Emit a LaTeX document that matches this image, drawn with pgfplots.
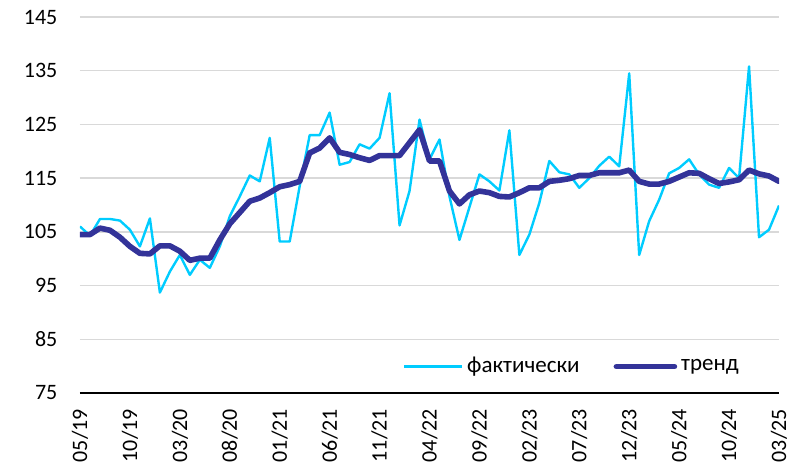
\documentclass[border=0pt]{standalone}
\usepackage{fontspec}
\setmainfont{Carlito}
\usepackage{pgfplots}
\pgfplotsset{compat=1.18}
\definecolor{fakt}{RGB}{0,204,255}
\definecolor{trend}{RGB}{51,51,153}
\definecolor{gridc}{RGB}{217,217,217}

\pgfplotstableread{
m fakt trend
0 106.0 104.5
1 104.3 104.5
2 107.4 105.7
3 107.4 105.3
4 107.1 104.0
5 105.4 102.3
6 102.3 101.0
7 107.5 100.9
8 93.7 102.4
9 97.6 102.4
10 100.7 101.4
11 97.0 99.7
12 99.8 100.1
13 98.3 100.1
14 102.3 103.5
15 107.9 106.5
16 111.6 108.6
17 115.5 110.7
18 114.4 111.3
19 122.5 112.3
20 103.2 113.4
21 103.2 113.8
22 113.5 114.4
23 123.0 119.7
24 123.0 120.6
25 127.2 122.5
26 117.5 119.8
27 118.0 119.4
28 121.3 118.8
29 120.5 118.3
30 122.5 119.2
31 130.8 119.2
32 106.2 119.2
33 112.6 121.6
34 125.9 124.0
35 118.5 118.2
36 122.2 118.2
37 111.6 112.6
38 103.5 110.2
39 109.6 111.9
40 115.7 112.6
41 114.4 112.3
42 112.7 111.6
43 123.9 111.5
44 100.7 112.3
45 104.5 113.2
46 110.4 113.2
47 118.2 114.4
48 116.1 114.6
49 115.7 114.9
50 113.2 115.5
51 115.0 115.5
52 117.3 116.0
53 119.0 116.0
54 117.2 116.0
55 134.5 116.5
56 100.7 114.4
57 107.0 113.9
58 111.0 113.9
59 115.9 114.4
60 116.9 115.2
61 118.5 116.0
62 115.7 115.9
63 113.8 114.9
64 113.2 114.0
65 116.9 114.3
66 115.0 114.7
67 135.8 116.5
68 104.0 115.8
69 105.4 115.4
70 109.9 114.4
}\datatable

\begin{document}
\begin{tikzpicture}
\useasboundingbox (-40pt,-37.5pt) rectangle (364pt,196.5pt);
\begin{axis}[
    at={(0,0)}, anchor=south west,
    scale only axis,
    width=349.5pt, height=188pt,
    xmin=0, xmax=70,
    ymin=75, ymax=145,
    ytick={75,85,...,145},
    xtick={0,5,...,70},
    xticklabels={05/19,10/19,03/20,08/20,01/21,06/21,11/21,04/22,09/22,02/23,07/23,12/23,05/24,10/24,03/25},
    axis x line*=bottom,
    axis y line*=left,
    x axis line style={black, line width=1.1pt, -},
    y axis line style={draw=none},
    major tick length=0pt,
    ymajorgrids,
    grid style={gridc, line width=0.7pt},
    tick label style={font=\fontsize{11}{13}\selectfont},
    /pgf/number format/assume math mode=true,
    yticklabel style={anchor=east, xshift=-7.8pt},
    xticklabel style={yshift=-4.5pt, rotate=90, anchor=east},
    legend columns=2,
    legend style={draw=none, fill=none, at={(0.705,0.07)}, anchor=center,
        font=\fontsize{11.5}{13}\selectfont,
        /tikz/every even column/.append style={column sep=15pt}},
    legend image code/.code={\draw[#1] (0pt,0pt) -- (29pt,0pt);},
]
\addplot[fakt, line width=1.2pt, line join=round] table[x=m, y=fakt] {\datatable};
\addplot[trend, line width=2.8pt, line join=round, line cap=round] table[x=m, y=trend] {\datatable};
\legend{фактически, тренд}
\end{axis}
\end{tikzpicture}
\end{document}
